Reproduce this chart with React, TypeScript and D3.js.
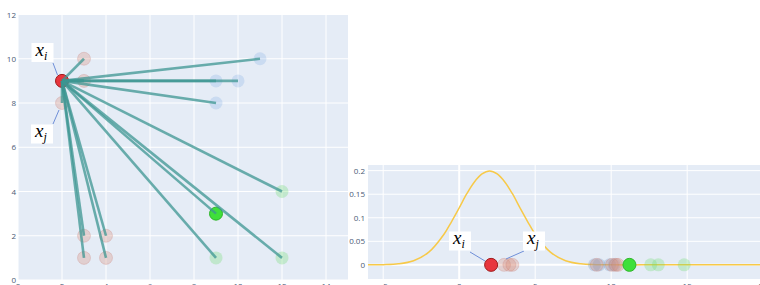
import React from "react";
import * as d3 from "d3";

// left chart: 2D points, anchor x_i joined to every other point
const anchorX = [2];
const anchorY = [9];
const pinkX = [3, 3, 2, 3, 3, 4, 4];
const pinkY = [10, 9, 8, 2, 1, 2, 1];
const blueX = [11, 9, 10, 9];
const blueY = [10, 9, 9, 8];
const lightGreenX = [12, 9, 12];
const lightGreenY = [4, 1, 1];
const greenX = [9];
const greenY = [3];
const leftXTicks = [0, 2, 4, 6, 8, 10, 12, 14];
const leftYTicks = [0, 2, 4, 6, 8, 10, 12];

// right chart: 1D embedding + gaussian around x_i
const curveX = [-6, -5, -4, -3, -2, -1, -0.5, 0, 0.5, 1, 1.5, 2, 2.5, 3, 3.5, 4, 4.5, 5, 6, 7, 8, 9, 10, 12, 14, 16, 18, 20, 21];
const curveY = [0, 0.0004, 0.0022, 0.0088, 0.027, 0.065, 0.092, 0.121, 0.151, 0.176, 0.193, 0.1995, 0.193, 0.176, 0.151, 0.121, 0.092, 0.065, 0.027, 0.0088, 0.0022, 0.0004, 0, 0, 0, 0, 0, 0, 0];
const embRed = [2.1];
const embPink = [2.95, 3.3, 3.5, 9.05, 10.05, 10.3, 10.45];
const embBlue = [8.9, 9.2, 9.9, 10.2];
const embLightGreen = [12.6, 13.1, 14.8];
const embGreen = [11.2];
const rightXTicks = [-5, 0, 5, 10, 15, 20];
const rightYTicks = [0, 0.05, 0.1, 0.15, 0.2];
const rightYLabels = ["0", "0.05", "0.1", "0.15", "0.2"];

const BG = "#e5ecf6";
const TICK = "#4a5a75";
const PINK = "rgba(214,140,120,0.3)";
const BLUE = "rgba(110,160,225,0.22)";
const LGREEN = "rgba(110,220,110,0.3)";
const RED = "#e8353d";
const GREEN = "#3fe03a";
const TEAL = "rgba(60,150,146,0.75)";
const ARROW = "#6f8fd8";

function Label({ cx, cy, sub }: { cx: number; cy: number; sub: string }) {
  return (
    <g>
      <rect x={cx - 11} y={cy - 9.5} width={22} height={19} fill="#fff" />
      <text x={cx - 7} y={cy + 3} fontFamily="Liberation Serif" fontStyle="italic" fontSize={19} fill="#000">
        x
        <tspan fontSize={12} dy={4}>{sub}</tspan>
      </text>
    </g>
  );
}

export default function App() {
  const lx = d3.scaleLinear().domain([0, 15]).range([18, 348]);
  const ly = d3.scaleLinear().domain([0, 12]).range([280, 14.5]);
  const rx = d3.scaleLinear().domain([-6, 20.75]).range([368, 774.6]);
  const ry = d3.scaleLinear().domain([-0.03, 0.212]).range([279, 165]);

  const line = d3
    .line<number>()
    .x((_, i) => rx(curveX[i]))
    .y((d) => ry(d))
    .curve(d3.curveCatmullRom);

  const others: [number, number][] = [
    ...pinkX.map((x, i) => [x, pinkY[i]] as [number, number]),
    ...blueX.map((x, i) => [x, blueY[i]] as [number, number]),
    ...lightGreenX.map((x, i) => [x, lightGreenY[i]] as [number, number]),
    ...greenX.map((x, i) => [x, greenY[i]] as [number, number]),
  ];

  const r = 6.5;
  const [ax, ay] = [lx(anchorX[0]), ly(anchorY[0])];

  return (
    <svg width={760} height={285} style={{ position: "absolute", left: 0, top: 0 }} fontFamily="Open Sans, sans-serif">
      <defs>
        <clipPath id="clipL">
          <rect x={lx(0)} y={ly(12)} width={lx(15) - lx(0)} height={ly(0) - ly(12)} />
        </clipPath>
        <clipPath id="clipR">
          <rect x={rx(-6)} y={ry(0.212)} width={rx(20.75) - rx(-6)} height={ry(-0.03) - ry(0.212)} />
        </clipPath>
      </defs>

      {/* left chart */}
      <rect x={lx(0)} y={ly(12)} width={lx(15) - lx(0)} height={ly(0) - ly(12)} fill={BG} />
      {leftXTicks.map((t) => (
        <line key={"lxg" + t} x1={lx(t)} x2={lx(t)} y1={ly(0)} y2={ly(12)} stroke="#fff" strokeWidth={1} />
      ))}
      {leftYTicks.map((t) => (
        <line key={"lyg" + t} x1={lx(0)} x2={lx(15)} y1={ly(t)} y2={ly(t)} stroke="#fff" strokeWidth={1} />
      ))}
      {leftXTicks.map((t) => (
        <text key={"lxt" + t} x={lx(t)} y={289} fontSize={8} fill={TICK} textAnchor="middle">{t}</text>
      ))}
      {leftYTicks.map((t) => (
        <text key={"lyt" + t} x={lx(0) - 2} y={ly(t) + 3} fontSize={8} fill={TICK} textAnchor="end">{t}</text>
      ))}
      <g clipPath="url(#clipL)">
        {pinkX.map((x, i) => (
          <circle key={"pk" + i} cx={lx(x)} cy={ly(pinkY[i])} r={r} fill={PINK} stroke="rgba(200,120,110,0.25)" />
        ))}
        {blueX.map((x, i) => (
          <circle key={"bl" + i} cx={lx(x)} cy={ly(blueY[i])} r={r} fill={BLUE} />
        ))}
        {lightGreenX.map((x, i) => (
          <circle key={"lg" + i} cx={lx(x)} cy={ly(lightGreenY[i])} r={r} fill={LGREEN} />
        ))}
        {greenX.map((x, i) => (
          <circle key={"g" + i} cx={lx(x)} cy={ly(greenY[i])} r={r} fill={GREEN} stroke="#2fb52b" />
        ))}
        <circle cx={ax} cy={ay} r={r} fill={RED} stroke="#9e1a1a" strokeWidth={1} />
        {others.map(([x, y], i) => (
          <line key={"ln" + i} x1={ax} y1={ay} x2={lx(x)} y2={ly(y)} stroke={TEAL} strokeWidth={2.6} />
        ))}
      </g>
      <line x1={53} y1={63} x2={57.5} y2={75} stroke={ARROW} strokeWidth={1} />
      <line x1={53} y1={124} x2={59} y2={110} stroke={ARROW} strokeWidth={1} />
      <Label cx={42.5} cy={52.5} sub="i" />
      <Label cx={42} cy={134} sub="j" />

      {/* right chart */}
      <rect x={rx(-6)} y={ry(0.212)} width={rx(20.75) - rx(-6)} height={ry(-0.03) - ry(0.212)} fill={BG} />
      {rightXTicks.map((t) => (
        <line key={"rxg" + t} x1={rx(t)} x2={rx(t)} y1={ry(-0.03)} y2={ry(0.212)} stroke="#fff" strokeWidth={t === 0 ? 2 : 1} />
      ))}
      {rightYTicks.map((t) => (
        <line key={"ryg" + t} x1={rx(-6)} x2={rx(20.75)} y1={ry(t)} y2={ry(t)} stroke="#fff" strokeWidth={t === 0 ? 2 : 1} />
      ))}
      {rightXTicks.map((t) => (
        <text key={"rxt" + t} x={rx(t)} y={289} fontSize={8} fill={TICK} textAnchor="middle">{t < 0 ? "\u2212" + Math.abs(t) : t}</text>
      ))}
      {rightYTicks.map((t, i) => (
        <text key={"ryt" + t} x={rx(-6) - 3} y={ry(t) + 3} fontSize={8} fill={TICK} textAnchor="end">{rightYLabels[i]}</text>
      ))}
      <g clipPath="url(#clipR)">
        <path d={line(curveY) || ""} fill="none" stroke="#f7c948" strokeWidth={1.5} />
        {embBlue.map((x, i) => (
          <circle key={"eb" + i} cx={rx(x)} cy={ry(0)} r={r} fill="rgba(130,160,200,0.35)" />
        ))}
        {embPink.map((x, i) => (
          <circle key={"ep" + i} cx={rx(x)} cy={ry(0)} r={r} fill={PINK} stroke="rgba(200,120,110,0.25)" />
        ))}
        {embLightGreen.map((x, i) => (
          <circle key={"el" + i} cx={rx(x)} cy={ry(0)} r={r} fill={LGREEN} />
        ))}
        {embGreen.map((x, i) => (
          <circle key={"eg" + i} cx={rx(x)} cy={ry(0)} r={r} fill={GREEN} stroke="#2fb52b" />
        ))}
        {embRed.map((x, i) => (
          <circle key={"er" + i} cx={rx(x)} cy={ry(0)} r={r} fill={RED} stroke="#9e1a1a" />
        ))}
      </g>
      <line x1={470} y1={252} x2={485} y2={261} stroke={ARROW} strokeWidth={1} />
      <line x1={524} y1={251} x2={506} y2={259} stroke={ARROW} strokeWidth={1} />
      <Label cx={460} cy={241} sub="i" />
      <Label cx={534} cy={241} sub="j" />
    </svg>
  );
}
